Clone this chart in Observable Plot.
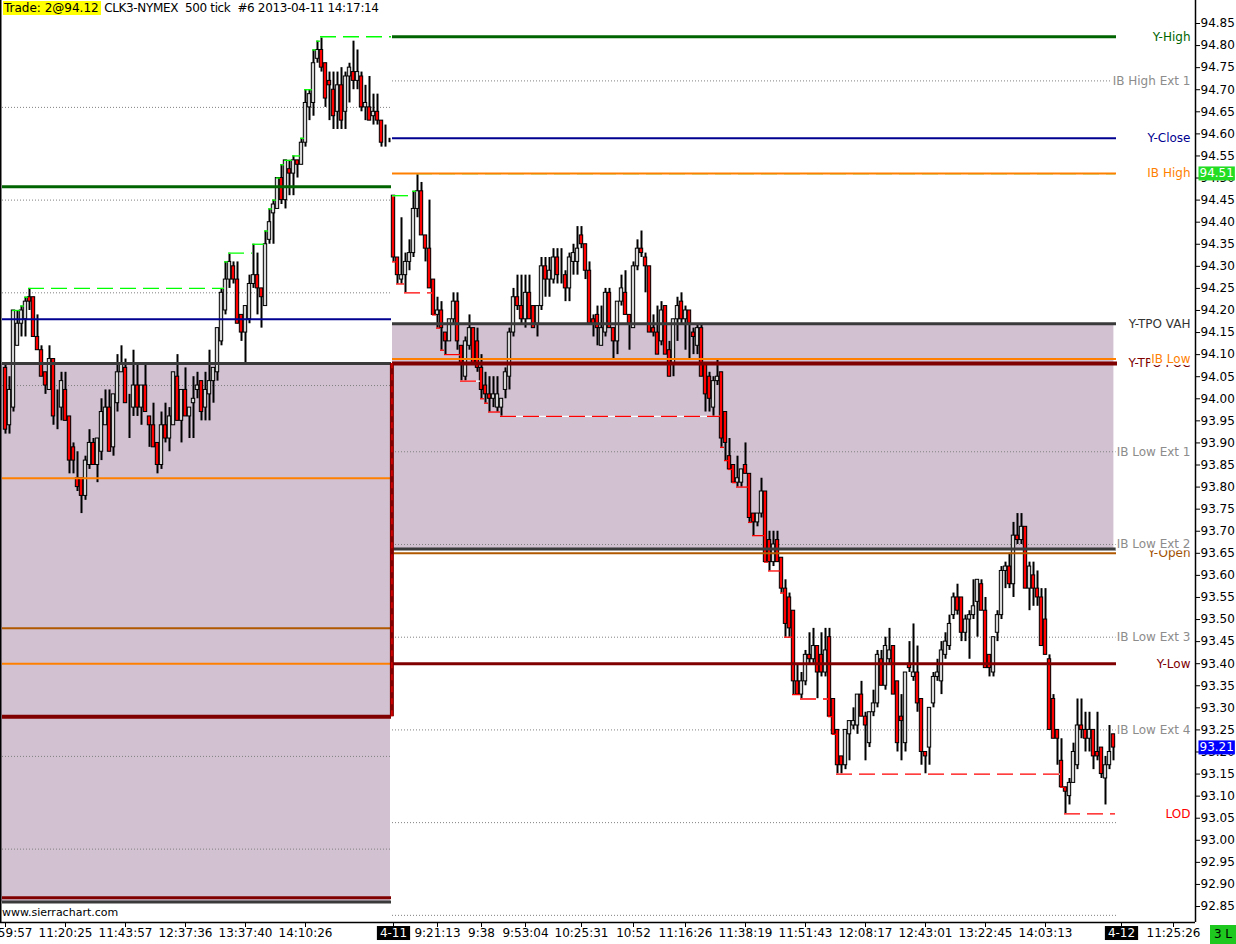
<!DOCTYPE html>
<html><head><meta charset="utf-8">
<script src="https://cdn.jsdelivr.net/npm/d3@7"></script>
<script src="https://cdn.jsdelivr.net/npm/@observablehq/plot@0.6"></script>
<style>
html,body{margin:0;padding:0;background:#fff;overflow:hidden}
#wrap{position:relative;width:1236px;height:944px}
#hdr{position:absolute;left:3px;top:0;font:12px "DejaVu Sans";white-space:pre;line-height:17px;z-index:2}
#hdr .t{background:#ffff00;padding:0 2px 0 1px}
#hdr .r{letter-spacing:-0.35px}
#site{position:absolute;left:2px;top:906px;font:11px "DejaVu Sans";z-index:2}
#corner{position:absolute;left:1210px;top:925px;width:26px;height:19px;background:#1ec81e;font:12px "DejaVu Sans";text-align:center;line-height:19px;z-index:2}
</style></head><body>
<div id="wrap">
<div id="hdr"><span class="t">Trade: 2@94.12</span><span class="r"> CLK3-NYMEX  500 tick  #6 2013-04-11 14:17:14</span></div>
<div id="site">www.sierrachart.com</div>
<div id="corner">3 L</div>
</div>
<script>
// ---- candle data (500 tick bars), index 0..96 = 4-10 session, 97..277 = 4-11 session
const O = [
94.07,93.94,93.98,94.12,94.17,94.18,94.23,94.23,94.14,94.11,
94.06,94.02,94.09,93.96,93.98,94.02,93.96,93.89,93.82,93.82,
93.78,93.85,93.90,93.85,93.88,93.94,93.98,93.89,93.99,94.06,
94.07,93.99,93.98,94.03,93.98,94.03,93.96,93.94,93.90,93.85,
93.94,93.91,93.94,94.05,93.95,94.02,93.96,93.99,94.02,94.04,
93.98,94.01,94.04,94.06,94.13,94.20,94.27,94.30,94.27,94.19,
94.15,94.18,94.26,94.28,94.25,94.21,94.36,94.42,94.43,94.50,
94.45,94.52,94.51,94.54,94.53,94.58,94.66,94.67,94.77,94.79,
94.76,94.72,94.70,94.65,94.71,94.65,94.73,94.74,94.72,94.73,
94.66,94.66,94.64,94.65,94.63,94.58,94.59,
94.46,94.32,94.27,94.28,94.31,94.33,94.43,94.47,94.37,94.34,
94.27,94.19,94.20,94.15,94.13,94.18,94.22,94.12,94.05,94.12,
94.16,94.13,94.07,94.03,94.01,94.00,93.98,93.98,94.02,94.05,
94.15,94.23,94.21,94.18,94.24,94.21,94.17,94.21,94.30,94.27,
94.27,94.32,94.28,94.28,94.25,94.31,94.31,94.37,94.35,94.29,
94.18,94.19,94.12,94.15,94.24,94.16,94.13,94.22,94.24,94.19,
94.16,94.30,94.34,94.32,94.30,94.16,94.15,94.13,94.21,94.11,
94.08,94.18,94.22,94.18,94.20,94.15,94.12,94.16,94.08,94.05,
93.98,94.04,94.06,93.97,93.87,93.85,93.81,93.81,93.85,93.83,
93.74,93.72,93.74,93.79,93.68,93.63,93.68,93.64,93.57,93.55,
93.52,93.36,93.33,93.36,93.42,93.41,93.44,93.42,93.38,93.46,
93.32,93.25,93.19,93.17,93.24,93.26,93.26,93.33,93.28,93.22,
93.29,93.31,93.41,93.35,93.41,93.44,93.36,93.28,93.22,93.40,
93.37,93.38,93.32,93.20,93.21,93.31,93.37,93.36,93.42,93.44,
93.51,93.55,93.55,93.47,93.50,93.51,93.54,93.58,93.52,93.42,
93.38,93.47,93.51,93.61,93.62,93.58,93.69,93.68,93.71,93.57,
93.60,93.57,93.55,93.50,93.41,93.32,93.25,93.18,93.12,93.10,
93.13,93.17,93.26,93.25,93.23,93.25,93.20,93.21,93.14,93.17,93.24];
const H = [
94.08,94.05,94.20,94.20,94.21,94.23,94.25,94.23,94.19,94.12,
94.06,94.12,94.09,94.02,94.06,94.06,93.96,93.90,93.88,93.82,
93.87,93.93,93.91,93.91,94.00,94.02,94.02,94.01,94.10,94.12,
94.09,94.01,94.11,94.08,94.03,94.08,93.96,93.99,93.90,93.97,
93.99,93.98,94.06,94.10,94.02,94.07,93.98,94.05,94.06,94.04,
94.06,94.11,94.07,94.16,94.25,94.31,94.33,94.31,94.31,94.19,
94.21,94.28,94.35,94.33,94.25,94.38,94.43,94.45,94.50,94.53,
94.54,94.54,94.55,94.54,94.59,94.70,94.70,94.79,94.81,94.82,
94.76,94.74,94.74,94.74,94.75,94.74,94.76,94.81,94.79,94.74,
94.71,94.73,94.69,94.69,94.63,94.62,94.59,
94.46,94.32,94.41,94.33,94.36,94.47,94.51,94.49,94.37,94.45,
94.27,94.23,94.22,94.15,94.18,94.24,94.24,94.12,94.14,94.19,
94.16,94.16,94.10,94.06,94.05,94.05,94.05,94.00,94.07,94.16,
94.25,94.28,94.28,94.28,94.28,94.21,94.21,94.32,94.32,94.32,
94.34,94.34,94.34,94.29,94.33,94.35,94.39,94.39,94.35,94.31,
94.19,94.21,94.21,94.25,94.25,94.16,94.22,94.28,94.29,94.19,
94.31,94.36,94.38,94.33,94.30,94.19,94.21,94.22,94.21,94.13,
94.18,94.23,94.24,94.21,94.20,94.16,94.17,94.17,94.08,94.06,
94.05,94.09,94.06,93.97,93.91,93.85,93.87,93.84,93.90,93.83,
93.74,93.74,93.82,93.79,93.70,93.70,93.70,93.64,93.59,93.56,
93.52,93.40,93.38,93.43,93.47,93.48,93.44,93.47,93.48,93.48,
93.32,93.25,93.19,93.25,93.27,93.30,93.33,93.36,93.29,93.29,
93.34,93.43,93.43,93.46,93.48,93.44,93.36,93.33,93.38,93.45,
93.49,93.44,93.32,93.20,93.30,93.38,93.41,93.45,93.47,93.51,
93.56,93.58,93.55,93.51,93.52,93.59,93.59,93.59,93.55,93.42,
93.46,93.52,93.62,93.63,93.65,93.72,93.74,93.74,93.71,93.63,
93.63,93.61,93.57,93.57,93.42,93.33,93.25,93.23,93.12,93.14,
93.22,93.32,93.32,93.29,93.29,93.25,93.29,93.21,93.19,93.26,93.24];
const L = [
93.92,93.92,93.97,94.12,94.14,94.14,94.20,94.14,94.11,94.05,
94.01,94.02,93.94,93.93,93.95,93.95,93.83,93.83,93.79,93.74,
93.77,93.84,93.85,93.81,93.86,93.94,93.88,93.87,93.97,94.06,
93.99,93.91,93.96,93.96,93.94,93.97,93.89,93.89,93.83,93.84,
93.90,93.88,93.94,93.95,93.90,93.96,93.91,93.91,94.00,93.95,
93.95,93.95,93.99,94.04,94.12,94.19,94.25,94.26,94.17,94.13,
94.08,94.17,94.25,94.19,94.16,94.21,94.35,94.35,94.43,94.44,
94.43,94.46,94.46,94.50,94.53,94.57,94.63,94.64,94.76,94.74,
94.66,94.63,94.61,94.61,94.61,94.61,94.67,94.70,94.70,94.65,
94.63,94.63,94.62,94.62,94.57,94.57,94.58,
94.31,94.26,94.26,94.24,94.29,94.32,94.41,94.37,94.31,94.25,
94.19,94.16,94.11,94.10,94.13,94.17,94.11,94.04,94.04,94.11,
94.08,94.06,94.00,93.99,93.97,93.98,93.97,93.96,94.00,94.02,
94.14,94.20,94.17,94.16,94.18,94.16,94.14,94.20,94.23,94.23,
94.26,94.26,94.26,94.22,94.22,94.28,94.28,94.34,94.27,94.17,
94.14,94.12,94.12,94.14,94.16,94.09,94.10,94.21,94.19,94.11,
94.16,94.29,94.32,94.24,94.15,94.14,94.10,94.12,94.10,94.05,
94.05,94.13,94.17,94.11,94.09,94.10,94.10,94.05,93.97,93.97,
93.96,94.03,93.89,93.86,93.84,93.81,93.80,93.80,93.83,93.72,
93.69,93.71,93.73,93.63,93.61,93.62,93.63,93.56,93.46,93.46,
93.33,93.33,93.32,93.35,93.40,93.40,93.32,93.37,93.37,93.28,
93.24,93.15,93.15,93.16,93.18,93.25,93.24,93.28,93.18,93.21,
93.28,93.30,93.35,93.34,93.40,93.33,93.20,93.18,93.20,93.38,
93.36,93.29,93.17,93.15,93.17,93.30,93.36,93.33,93.41,93.43,
93.50,93.51,93.45,93.45,93.41,93.50,93.46,93.52,93.39,93.37,
93.37,93.45,93.50,93.57,93.57,93.55,93.67,93.67,93.57,93.52,
93.53,93.53,93.44,93.42,93.25,93.23,93.17,93.12,93.06,93.08,
93.13,93.16,93.23,93.20,93.20,93.16,93.18,93.14,93.08,93.16,93.18];
const C = [
93.93,94.02,94.20,94.17,94.20,94.22,94.22,94.14,94.11,94.05,
94.03,94.09,93.96,93.96,94.04,93.95,93.86,93.86,93.80,93.78,
93.86,93.90,93.85,93.91,93.97,93.98,93.88,94.01,94.06,94.08,
93.99,93.99,94.03,93.98,94.03,93.97,93.94,93.89,93.85,93.94,
93.91,93.96,94.06,93.95,94.02,93.96,93.98,94.00,94.03,93.97,
94.02,94.04,94.07,94.16,94.24,94.27,94.31,94.27,94.17,94.15,
94.21,94.26,94.28,94.25,94.23,94.35,94.40,94.44,94.50,94.45,
94.54,94.51,94.54,94.53,94.58,94.67,94.69,94.76,94.79,94.75,
94.68,94.71,94.64,94.71,94.63,94.73,94.75,94.72,94.74,94.66,
94.67,94.63,94.65,94.63,94.58,94.58,94.59,
94.32,94.28,94.28,94.31,94.33,94.43,94.47,94.37,94.34,94.25,
94.19,94.20,94.16,94.13,94.18,94.22,94.13,94.08,94.13,94.16,
94.08,94.07,94.02,94.01,94.00,94.01,94.01,94.00,94.06,94.15,
94.23,94.21,94.18,94.24,94.18,94.16,94.21,94.30,94.27,94.29,
94.32,94.28,94.28,94.25,94.32,94.33,94.34,94.35,94.29,94.17,
94.17,94.16,94.16,94.24,94.16,94.13,94.22,94.25,94.19,94.17,
94.30,94.34,94.33,94.30,94.15,94.15,94.10,94.20,94.10,94.05,
94.18,94.21,94.18,94.20,94.17,94.14,94.16,94.05,94.01,94.00,
94.04,94.05,93.91,93.90,93.84,93.81,93.82,93.84,93.83,93.73,
93.72,93.74,93.79,93.63,93.63,93.67,93.63,93.57,93.49,93.48,
93.36,93.33,93.36,93.42,93.41,93.44,93.38,93.38,93.43,93.28,
93.24,93.17,93.17,93.25,93.27,93.27,93.33,93.28,93.26,93.29,
93.31,93.42,93.35,93.44,93.43,93.33,93.22,93.27,93.38,93.39,
93.38,93.31,93.20,93.19,93.30,93.37,93.38,93.43,93.45,93.49,
93.55,93.52,93.47,93.50,93.51,93.53,93.59,93.52,93.39,93.39,
93.46,93.51,93.61,93.62,93.58,93.69,93.68,93.71,93.57,93.62,
93.57,93.55,93.44,93.42,93.25,93.23,93.23,93.12,93.11,93.13,
93.20,93.26,93.25,93.23,93.25,93.19,93.19,93.15,93.17,93.20,93.21];

const sessionStart = [0, 97];
const sessionEnd = [96, 277];

// ---- study levels
const day1LevelNames  = ["Y-High","Y-Close","Y-TPO VAH","IB High","Y-Open","IB Low","Y-TPO POC","Y-Low","Y-TPO VAL"];
const day1LevelValues = [94.48, 94.18, 94.08, 93.82, 93.48, 93.40, 93.28, 92.87, 92.86];
const day1ExtValues   = [94.66, 94.45, 94.24, 94.03, 93.19, 92.98];
const day2LevelNames  = ["Y-High","Y-Close","IB High","Y-TPO VAH","IB Low","Y-TPO POC","Y-TPO VAL","Y-Open","Y-Low"];
const day2LevelValues = [94.82, 94.59, 94.51, 94.17, 94.09, 94.08, 93.66, 93.65, 93.40];
const day2ExtNames    = ["IB High Ext 1","IB Low Ext 1","IB Low Ext 2","IB Low Ext 3","IB Low Ext 4","IB Low Ext 5","IB Low Ext 6"];
const day2ExtValues   = [94.72, 93.88, 93.67, 93.46, 93.25, 93.04, 92.83];
const labelNames = ["Y-High","IB High Ext 1","Y-Close","IB High","Y-TPO VAH","Y-TPO POC","IB Low","IB Low Ext 1","Y-Open","IB Low Ext 2","IB Low Ext 3","Y-Low","IB Low Ext 4","LOD"];

// ---- axes
const xTickIndex  = [0,15,30,45,60,75,97,108,119,130,144,157,170,185,200,215,230,245,260,279,292];
const xTickLabels = ["10:59:57","11:20:25","11:43:57","12:37:36","13:37:40","14:10:26","4-11","9:21:13","9:38","9:53:04","10:25:31","10:52","11:16:26","11:38:19","11:51:43","12:08:17","12:43:01","13:22:45","14:03:13","4-12","11:25:26"];
const yTicks = d3.range(0, 41).map(k => Math.round((92.85 + k * 0.05) * 100) / 100);
const lastPriceValue = 93.21;
const ibHighMarker = 94.51;

// ---- styles (kept apart from data)
const levelStyle = {
  "Y-High": ["#006400", 3], "Y-Close": ["#000090", 2], "Y-TPO VAH": ["#3a3a3a", 3],
  "IB High": ["#ff8000", 2], "Y-Open": ["#b05800", 2], "IB Low": ["#ff8000", 2],
  "Y-TPO POC": ["#800000", 4], "Y-Low": ["#800000", 3], "Y-TPO VAL": ["#3a3a3a", 3]
};
const labelColor = {
  "Y-High": "#006400", "Y-Close": "#000090", "Y-TPO VAH": "#333333", "IB High": "#ff8000",
  "IB Low": "#ff8000", "Y-TPO POC": "#800000", "Y-Open": "#a05000", "Y-Low": "#800000", "LOD": "#ff0000"
};
const extColor = "#8c8c8c";

// ---- derived tables
const candles = O.map((o, i) => ({i, o, h: H[i], l: L[i], c: C[i]}));
const up = candles.filter(d => d.c >= d.o);
const down = candles.filter(d => d.c < d.o);

function records(lo, hi, init, vals, better) {
  const recs = [];
  let best = init;
  for (let i = lo; i <= hi; i++) if (better(vals[i], best)) { recs.push({i, v: vals[i]}); best = vals[i]; }
  return recs.map((r, k) => {
    const nxt = k + 1 < recs.length ? recs[k + 1].i : hi + 0.75;
    return {x1: r.i - 0.25, x2: nxt - 0.25, v: r.v, long: nxt - r.i >= 4};
  });
}
const highRecs = [
  ...records(sessionStart[0], sessionEnd[0], 94.15, H, (a, b) => a > b),
  ...records(sessionStart[1], sessionEnd[1], -Infinity, H, (a, b) => a > b)
];
const lowRecs = records(sessionStart[1], sessionEnd[1], Infinity, L, (a, b) => a < b);
const dayLow = d3.min(L.slice(sessionStart[1], sessionEnd[1] + 1));

const lv1 = Object.fromEntries(day1LevelNames.map((n, k) => [n, day1LevelValues[k]]));
const lv2 = Object.fromEntries(day2LevelNames.map((n, k) => [n, day2LevelValues[k]]));
const ext2 = Object.fromEntries(day2ExtNames.map((n, k) => [n, day2ExtValues[k]]));
const labelValue = n => n === "LOD" ? dayLow : (lv2[n] ?? ext2[n]);

const X0 = -1.25, X1 = 297.5;
const d1a = -0.75, d1b = 96.5, d2a = 96.75, d2b = 277.75;
const labelX = 296.25;

const marks = [];
// value areas
marks.push(Plot.rect([0], {x1: X0, x2: 96.25, y1: lv1["Y-TPO VAH"], y2: lv1["Y-TPO VAL"], fill: "#d1c1d1"}));
marks.push(Plot.rect([0], {x1: d2a, x2: 277.1, y1: lv2["Y-TPO VAH"], y2: lv2["Y-TPO VAL"], fill: "#d1c1d1"}));
// IB extension dotted lines
marks.push(Plot.ruleY(day1ExtValues, {x1: d1a, x2: d1b, stroke: "#808080", strokeWidth: 1, strokeDasharray: "1,2"}));
marks.push(Plot.ruleY(day2ExtValues, {x1: d2a, x2: d2b, stroke: "#808080", strokeWidth: 1, strokeDasharray: "1,2"}));
// candles
marks.push(Plot.ruleX(candles, {x: "i", y1: "l", y2: "h", stroke: "black", strokeWidth: 2}));
marks.push(Plot.rect(up, {x1: d => d.i - 0.42, x2: d => d.i + 0.42, y1: "o", y2: "c", fill: "#d6d6d6", stroke: "black", strokeWidth: 1}));
marks.push(Plot.rect(down, {x1: d => d.i - 0.42, x2: d => d.i + 0.42, y1: "o", y2: "c", fill: "#ff0000", stroke: "black", strokeWidth: 1}));
// new high / new low markers
const longHi = highRecs.filter(d => d.long), shortHi = highRecs.filter(d => !d.long);
const longLo = lowRecs.filter(d => d.long), shortLo = lowRecs.filter(d => !d.long);
marks.push(Plot.ruleY(longHi, {y: "v", x1: "x1", x2: "x2", stroke: "white", strokeWidth: 1.3}));
marks.push(Plot.ruleY(longHi, {y: "v", x1: "x1", x2: "x2", stroke: "#00ff00", strokeWidth: 1.3, strokeDasharray: "16,7"}));
marks.push(Plot.ruleY(shortHi, {y: "v", x1: "x1", x2: "x2", stroke: "#00ff00", strokeWidth: 1.3}));
marks.push(Plot.ruleY(longLo, {y: "v", x1: "x1", x2: "x2", stroke: "white", strokeWidth: 1.3}));
marks.push(Plot.ruleY(longLo, {y: "v", x1: "x1", x2: "x2", stroke: "#ff0000", strokeWidth: 1.3, strokeDasharray: "16,7"}));
marks.push(Plot.ruleY(shortLo, {y: "v", x1: "x1", x2: "x2", stroke: "#ff0000", strokeWidth: 1.3}));
// level lines
day1LevelNames.forEach((n, k) => {
  const [c, w] = levelStyle[n];
  marks.push(Plot.ruleY([day1LevelValues[k]], {x1: d1a, x2: d1b, stroke: c, strokeWidth: w}));
});
day2LevelNames.forEach((n, k) => {
  const [c, w] = levelStyle[n];
  marks.push(Plot.ruleY([day2LevelValues[k]], {x1: d2a, x2: n === "Y-TPO POC" ? 278 : d2b, stroke: c, strokeWidth: w}));
});
// migrating POC connector
marks.push(Plot.ruleX([96.6], {y1: lv1["Y-TPO POC"], y2: lv2["Y-TPO POC"], stroke: "#800000", strokeWidth: 4}));
marks.push(Plot.ruleX([96.6], {y1: lv1["Y-TPO POC"], y2: lv2["Y-TPO POC"], stroke: "#dd0000", strokeWidth: 1.5, strokeDasharray: "6,6"}));
// borders
marks.push(Plot.ruleX([X0], {stroke: "black", strokeWidth: 2}));
marks.push(Plot.ruleX([X1], {stroke: "black", strokeWidth: 1.5}));
marks.push(Plot.ruleY([92.8138], {stroke: "black", strokeWidth: 1.5}));
// axes
marks.push(Plot.axisY({anchor: "right", ticks: yTicks, tickFormat: d => d.toFixed(2), tickSize: 4, tickPadding: 1, label: null, fontSize: 12}));
marks.push(Plot.axisX({anchor: "bottom", ticks: xTickIndex, tickFormat: d => xTickLabels[xTickIndex.indexOf(d)], tickSize: 5, tickPadding: 1, label: null, fontSize: 12}));
// level labels
marks.push(Plot.text(labelNames, {x: labelX, y: labelValue, text: d => d, textAnchor: "end", fontSize: 12,
  fill: d => labelColor[d] ?? extColor}));
// price markers
marks.push(Plot.text([ibHighMarker], {x: X1, y: d => d, text: d => d.toFixed(2), dx: 4, textAnchor: "start", fill: "white", fontSize: 12}));
marks.push(Plot.text([lastPriceValue], {x: X1, y: d => d, text: d => d.toFixed(2), dx: 4, textAnchor: "start", fill: "white", fontSize: 12}));

const chart = Plot.plot({
  width: 1236, height: 944,
  marginLeft: 0, marginRight: 41, marginTop: 0, marginBottom: 22,
  x: {domain: [X0, X1], label: null},
  y: {domain: [92.8138, 94.9021], label: null},
  color: {type: "identity"},
  style: {fontFamily: "DejaVu Sans", fontSize: "12px", background: "white", color: "black"},
  marks
});
const wrap = document.getElementById("wrap");
wrap.insertBefore(chart, wrap.firstChild);

// background boxes behind some texts
const NS = "http://www.w3.org/2000/svg";
function addBg(t, fill, px, py) {
  const bb = t.getBBox();
  const r = document.createElementNS(NS, "rect");
  r.setAttribute("x", bb.x - px); r.setAttribute("y", bb.y - py);
  r.setAttribute("width", bb.width + 2 * px); r.setAttribute("height", bb.height + 2 * py);
  r.setAttribute("fill", fill); r.setAttribute("stroke", "none");
  const tr = t.getAttribute("transform"); if (tr) r.setAttribute("transform", tr);
  t.parentNode.insertBefore(r, t);
}
const texts = Array.from(chart.querySelectorAll("text"));
texts.forEach(t => {
  const s = t.textContent;
  if (s === "4-11" || s === "4-12") { addBg(t, "black", 3, 0); t.setAttribute("fill", "white"); }
  else if (labelNames.includes(s)) addBg(t, "white", 1, -1);
});
const priceTexts = texts.filter(t => t.getAttribute("fill") === "white" || (t.parentNode.getAttribute("fill") === "white"));
priceTexts.forEach(t => {
  const s = t.textContent;
  if (s === ibHighMarker.toFixed(2)) addBg(t, "#22dd22", 1, 0);
  if (s === lastPriceValue.toFixed(2)) addBg(t, "#0000ff", 1, 0);
});
</script>
</body></html>
